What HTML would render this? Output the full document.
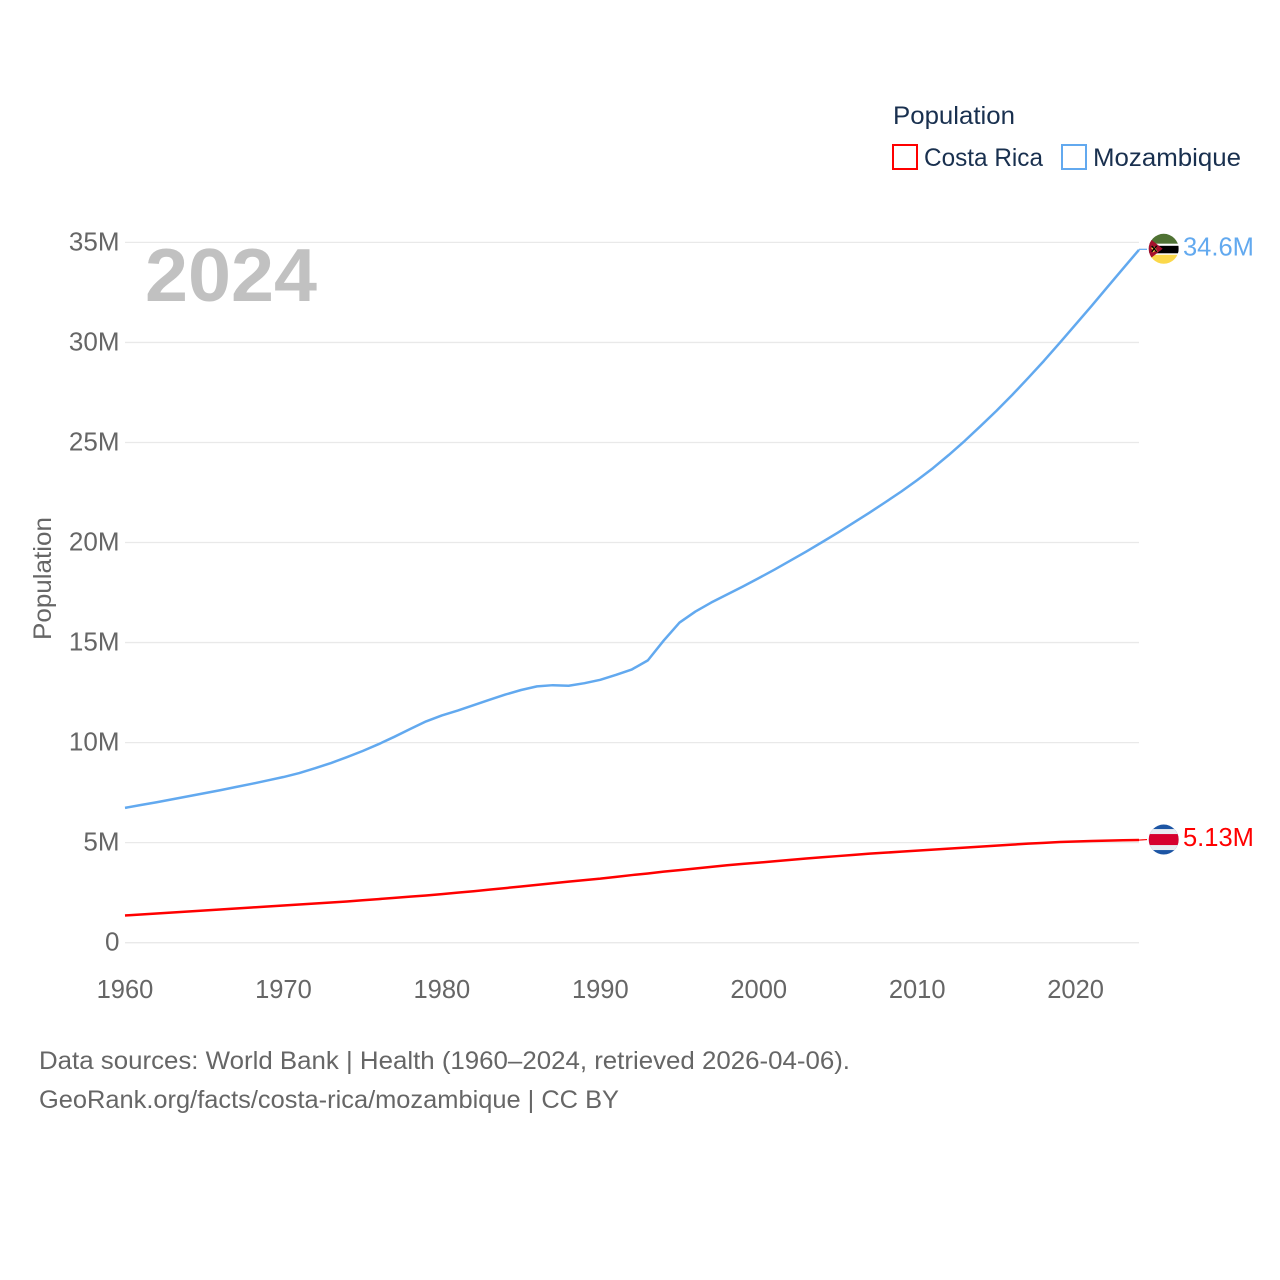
<!DOCTYPE html>
<html lang="en">
<head>
<meta charset="utf-8">
<title>Population: Costa Rica and Mozambique</title>
<style>
  html, body { margin: 0; padding: 0; background: #fff; }
  svg { display: block; font-family: "Liberation Sans", sans-serif; }
</style>
</head>
<body>
<svg id="chart" xmlns="http://www.w3.org/2000/svg" width="1280" height="1280" viewBox="0 0 1280 1280">
  <rect x="0" y="0" width="1280" height="1280" fill="#ffffff"/>

  <g id="grid"></g>
  <text x="145" y="301" font-size="75" font-weight="700" fill="#c1c1c1" textLength="172" lengthAdjust="spacingAndGlyphs">2024</text>
  <g id="y-ticks"></g>
  <g id="x-ticks"></g>
  <text transform="translate(51 640) rotate(-90)" font-size="25" fill="#666666" textLength="123" lengthAdjust="spacingAndGlyphs">Population</text>

  <g id="series"></g>

  <g>
    <text x="893" y="124" font-size="25" fill="#19304f" textLength="122" lengthAdjust="spacingAndGlyphs">Population</text>
    <g>
      <rect x="893" y="145" width="24" height="24" fill="#ffffff" stroke="#ff0000" stroke-width="2"/>
      <text x="924" y="166" font-size="25" fill="#19304f" textLength="119" lengthAdjust="spacingAndGlyphs">Costa Rica</text>
    </g>
    <g>
      <rect x="1062" y="145" width="24" height="24" fill="#ffffff" stroke="#62a9ef" stroke-width="2"/>
      <text x="1093" y="166" font-size="25" fill="#19304f" textLength="148" lengthAdjust="spacingAndGlyphs">Mozambique</text>
    </g>
  </g>

  <defs>
    <clipPath id="flag-clip"><circle cx="0" cy="0" r="15"/></clipPath>
  </defs>

  <g id="flag-mozambique">
    <g clip-path="url(#flag-clip)">
      <rect x="-15" y="-16" width="30" height="11" fill="#4f7233"/>
      <rect x="-15" y="-5" width="30" height="12" fill="#ffffff"/>
      <rect x="-15" y="-3" width="30" height="7.5" fill="#000000"/>
      <rect x="-15" y="6" width="30" height="10" fill="#fbd84a"/>
      <polygon points="-15,-11 -1,0 -15,11" fill="#a50f2d"/>
      <polygon points="-12,-4 -10,-1.5 -7,-3 -8,0 -6,3 -9,2.5 -11,4 -11,1 -13,-1 -11,-1" fill="#f4d34a"/>
      <path d="M-12 -3 L-7 3 M-7 -3 L-12 3" stroke="#000000" stroke-width="1.3"/>
    </g>
  </g>
  <g id="flag-costa-rica">
    <g clip-path="url(#flag-clip)">
      <rect x="-15" y="-16" width="30" height="32" fill="#1c55a4"/>
      <rect x="-15" y="-10.5" width="30" height="21" fill="#e8ecf2"/>
      <rect x="-15" y="-5.5" width="30" height="11" fill="#d6002e"/>
    </g>
  </g>

  <g id="value-labels"></g>

  <g>
    <text x="39" y="1069" font-size="25" fill="#666666" textLength="811" lengthAdjust="spacingAndGlyphs">Data sources: World Bank | Health (1960–2024, retrieved 2026-04-06).</text>
    <text x="39" y="1108" font-size="25" fill="#666666" textLength="580" lengthAdjust="spacingAndGlyphs">GeoRank.org/facts/costa-rica/mozambique | CC BY</text>
  </g>
</svg>

<script>
const years = [1960,1961,1962,1963,1964,1965,1966,1967,1968,1969,
  1970,1971,1972,1973,1974,1975,1976,1977,1978,1979,
  1980,1981,1982,1983,1984,1985,1986,1987,1988,1989,
  1990,1991,1992,1993,1994,1995,1996,1997,1998,1999,
  2000,2001,2002,2003,2004,2005,2006,2007,2008,2009,
  2010,2011,2012,2013,2014,2015,2016,2017,2018,2019,
  2020,2021,2022,2023,2024];
const mozambiqueValues = [6.74,6.88,7.02,7.17,7.32,7.47,7.62,7.78,7.94,8.11,
  8.28,8.48,8.72,8.98,9.27,9.58,9.92,10.29,10.68,11.06,
  11.36,11.6,11.87,12.14,12.4,12.63,12.81,12.87,12.84,12.97,
  13.14,13.39,13.66,14.11,15.1,16.0,16.55,17.0,17.4,17.8,
  18.22,18.65,19.1,19.55,20.02,20.5,21.0,21.5,22.02,22.55,
  23.12,23.72,24.38,25.08,25.82,26.58,27.38,28.22,29.08,29.98,
  30.9,31.82,32.76,33.7,34.63];
const costaRicaValues = [1.36,1.41,1.46,1.51,1.56,1.61,1.66,1.71,1.76,1.81,
  1.86,1.91,1.96,2.01,2.06,2.12,2.18,2.24,2.3,2.36,
  2.43,2.5,2.57,2.65,2.73,2.81,2.89,2.97,3.05,3.13,
  3.2,3.29,3.38,3.46,3.55,3.63,3.71,3.79,3.87,3.94,
  4.0,4.07,4.14,4.21,4.27,4.33,4.39,4.45,4.5,4.55,
  4.6,4.65,4.7,4.75,4.8,4.85,4.9,4.95,4.99,5.03,
  5.06,5.08,5.1,5.12,5.13];
const yTickValues = [0,5,10,15,20,25,30,35];
const yTickLabels = ["0","5M","10M","15M","20M","25M","30M","35M"];
const xTickYears = [1960,1970,1980,1990,2000,2010,2020];
const mozambiqueLabel = "34.6M";
const costaRicaLabel = "5.13M";

const SVG_NS = "http://www.w3.org/2000/svg";
const plot = { left: 125, right: 1139, top: 242.4, bottom: 942.7 };
const xScale = function (year) {
  return plot.left + (year - 1960) / (2024 - 1960) * (plot.right - plot.left);
};
const yScale = function (value) {
  return plot.bottom - value / 35 * (plot.bottom - plot.top);
};

const grid = document.getElementById("grid");
const yTicks = document.getElementById("y-ticks");
yTickValues.forEach(function (value, i) {
  const line = document.createElementNS(SVG_NS, "line");
  
  
  line.setAttribute("x1", plot.left);
  line.setAttribute("x2", plot.right);
  line.setAttribute("y1", yScale(value));
  line.setAttribute("y2", yScale(value));
  line.setAttribute("stroke", "#e9e9e9");
  line.setAttribute("stroke-width", "1.3");
  grid.appendChild(line);

  const label = document.createElementNS(SVG_NS, "text");
  
  
  label.setAttribute("x", 119.5);
  label.setAttribute("y", yScale(value) + 8);
  label.setAttribute("text-anchor", "end");
  label.setAttribute("font-size", "26");
  label.setAttribute("fill", "#666666");
  label.textContent = yTickLabels[i];
  yTicks.appendChild(label);
});

const xTicks = document.getElementById("x-ticks");
xTickYears.forEach(function (year) {
  const label = document.createElementNS(SVG_NS, "text");
  
  
  label.setAttribute("x", xScale(year));
  label.setAttribute("y", 998);
  label.setAttribute("text-anchor", "middle");
  label.setAttribute("font-size", "25.5");
  label.setAttribute("fill", "#666666");
  label.textContent = String(year);
  xTicks.appendChild(label);
});

const seriesGroup = document.getElementById("series");
const toPoints = function (values) {
  return values.map(function (v, i) {
    return xScale(years[i]).toFixed(2) + "," + yScale(v).toFixed(2);
  }).join(" ");
};

const costaLine = document.createElementNS(SVG_NS, "polyline");


costaLine.setAttribute("points", toPoints(costaRicaValues));
costaLine.setAttribute("fill", "none");
costaLine.setAttribute("stroke", "#ff0000");
costaLine.setAttribute("stroke-width", "2.5");
costaLine.setAttribute("stroke-linejoin", "round");
seriesGroup.appendChild(costaLine);

const mozLine = document.createElementNS(SVG_NS, "polyline");


mozLine.setAttribute("points", toPoints(mozambiqueValues));
mozLine.setAttribute("fill", "none");
mozLine.setAttribute("stroke", "#62a9ef");
mozLine.setAttribute("stroke-width", "2.5");
mozLine.setAttribute("stroke-linejoin", "round");
seriesGroup.appendChild(mozLine);

const lastCosta = yScale(costaRicaValues[costaRicaValues.length - 1]);
const lastMoz = yScale(mozambiqueValues[mozambiqueValues.length - 1]);

const costaConnector = document.createElementNS(SVG_NS, "line");


costaConnector.setAttribute("x1", plot.right);
costaConnector.setAttribute("x2", plot.right + 8);
costaConnector.setAttribute("y1", lastCosta);
costaConnector.setAttribute("y2", lastCosta - 0.5);
costaConnector.setAttribute("stroke", "#ff0000");
costaConnector.setAttribute("stroke-width", "1.2");
seriesGroup.appendChild(costaConnector);

const mozConnector = document.createElementNS(SVG_NS, "line");


mozConnector.setAttribute("x1", plot.right);
mozConnector.setAttribute("x2", plot.right + 8);
mozConnector.setAttribute("y1", lastMoz - 0.5);
mozConnector.setAttribute("y2", lastMoz - 0.5);
mozConnector.setAttribute("stroke", "#62a9ef");
mozConnector.setAttribute("stroke-width", "1.2");
seriesGroup.appendChild(mozConnector);

document.getElementById("flag-mozambique").setAttribute("transform", "translate(1163.7 " + (lastMoz - 1).toFixed(2) + ")");
document.getElementById("flag-costa-rica").setAttribute("transform", "translate(1163.7 " + (lastCosta - 0.5).toFixed(2) + ")");

const valueLabels = document.getElementById("value-labels");
const mozValue = document.createElementNS(SVG_NS, "text");


mozValue.setAttribute("x", 1183);
mozValue.setAttribute("y", lastMoz + 5.5);
mozValue.setAttribute("font-size", "25.5");
mozValue.setAttribute("fill", "#62a9ef");
mozValue.textContent = mozambiqueLabel;
valueLabels.appendChild(mozValue);

const costaValue = document.createElementNS(SVG_NS, "text");


costaValue.setAttribute("x", 1183);
costaValue.setAttribute("y", lastCosta + 6);
costaValue.setAttribute("font-size", "25.5");
costaValue.setAttribute("fill", "#ff0000");
costaValue.textContent = costaRicaLabel;
valueLabels.appendChild(costaValue);
</script>
</body>
</html>
